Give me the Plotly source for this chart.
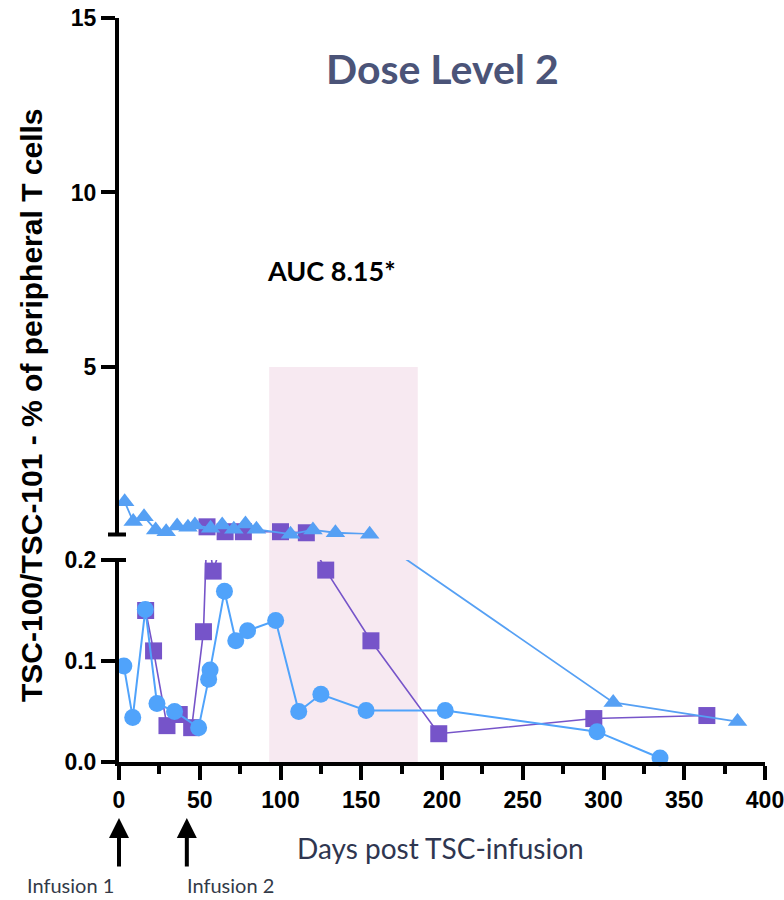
import plotly.graph_objects as go

# ---------------- data ----------------
circle_days = [3, 8.5, 16.3, 23.5, 34.4, 49.3, 55.5, 56.4, 65.3, 72.3, 79.6, 97, 111.3, 125, 153, 202, 296, 335]
circle_pct = [0.095, 0.044, 0.151, 0.058, 0.050, 0.034, 0.082, 0.091, 0.169, 0.120, 0.130, 0.140, 0.050, 0.067,
              0.051, 0.051, 0.030, 0.004]

square_days = [16.5, 21.4, 29.7, 37.3, 45, 52.3, 54.5, 58.3, 65.7, 77, 100, 116, 128, 156, 198, 294, 364]
square_pct = [0.150, 0.110, 0.036, 0.047, 0.034, 0.129, 0.42, 0.189, 0.28, 0.28, 0.28, 0.25, 0.190, 0.120,
              0.028, 0.043, 0.046]

triangle_days = [3.5, 8.8, 15.5, 22.7, 29.2, 36, 42.7, 47, 56.7, 63.9, 71.1, 78.3, 85.1, 106.2, 120.1, 134,
                 155.2, 306, 383]
triangle_pct = [1.14, 0.57, 0.71, 0.33, 0.28, 0.44, 0.41, 0.47, 0.38, 0.47, 0.35, 0.50, 0.35, 0.21, 0.33, 0.25,
                0.21, 0.059, 0.040]

x_ticks = [0, 50, 100, 150, 200, 250, 300, 350, 400]
lower_ticks = [0.0, 0.1, 0.2]
lower_labels = ["0.0", "0.1", "0.2"]
upper_ticks = [5, 10, 15]
upper_labels = ["5", "10", "15"]

auc_window = [93, 185]     # shaded days
auc_top = 5
infusion_days = [0, 42]
infusion_labels = ["Infusion 1", "Infusion 2"]

# ---------------- broken-axis geometry ----------------
LOW_TOP = 0.2
UP_BOT, UP_TOP = 0.2, 15
H_LOW, H_GAP, H_UP = 202, 25.5, 516.5
H_ALL = H_LOW + H_GAP + H_UP
W_PLOT = 646
ML, MT = 119, 18
MB = 900 - MT - H_ALL
MR = 784 - ML - W_PLOT


def seg_px(v):
    if v <= LOW_TOP:
        return v / LOW_TOP * H_LOW
    return H_LOW + H_GAP + (v - UP_BOT) / (UP_TOP - UP_BOT) * H_UP


def in_lower(v):
    return seg_px(v) / H_LOW * LOW_TOP


def in_upper(v):
    return UP_BOT + (seg_px(v) - H_LOW - H_GAP) / H_UP * (UP_TOP - UP_BOT)


def px_x(px):
    return (px - ML) / W_PLOT


def px_y(py):
    return (MT + H_ALL - py) / H_ALL


fig = go.Figure()

series = [
    (square_days, square_pct, "#7654c9", "square", 17, 1.6),
    (circle_days, circle_pct, "#50a3fb", "circle", 17, 2),
    (triangle_days, triangle_pct, "#56a0f4", "triangle-up", 17, 1.8),
]

for days, pct, color, sym, size, lw in series:
    fig.add_trace(go.Scatter(x=days, y=[in_lower(v) for v in pct], mode="lines",
                             line=dict(color=color, width=lw), yaxis="y", hoverinfo="skip"))
    fig.add_trace(go.Scatter(x=days, y=[in_upper(v) for v in pct], mode="lines",
                             line=dict(color=color, width=lw), yaxis="y2", hoverinfo="skip"))
    lo = [(d, v) for d, v in zip(days, pct) if v <= LOW_TOP]
    up = [(d, v) for d, v in zip(days, pct) if v > LOW_TOP]
    if lo:
        fig.add_trace(go.Scatter(x=[d for d, _ in lo], y=[v for _, v in lo], mode="markers",
                                 marker=dict(symbol=sym, size=size, color=color, line=dict(width=0)),
                                 yaxis="y", cliponaxis=False))
    if up:
        fig.add_trace(go.Scatter(x=[d for d, _ in up], y=[v for _, v in up], mode="markers",
                                 marker=dict(symbol=sym, size=size, color=color, line=dict(width=0)),
                                 yaxis="y2", cliponaxis=False))

tickfont = dict(family="Liberation Sans, Arial", size=23, color="black", weight="bold")
axis_common = dict(ticks="outside", ticklen=14, tickwidth=4, showline=True, linewidth=4, linecolor="black",
                   tickcolor="black", showgrid=False, zeroline=False, tickfont=tickfont,
                   ticklabeloverflow="allow", automargin=False)

fig.update_layout(
    width=784, height=900,
    margin=dict(l=ML, r=MR, t=MT, b=MB, autoexpand=False),
    paper_bgcolor="white", plot_bgcolor="rgba(0,0,0,0)",
    showlegend=False,
    xaxis=dict(range=[0, 400], tickvals=x_ticks, anchor="y",
               minor=dict(ticks="outside", ticklen=8, tickwidth=4, tickcolor="black", dtick=25, tick0=0,
                          showgrid=False), **axis_common),
    yaxis=dict(domain=[0, H_LOW / H_ALL], range=[0, LOW_TOP], tickvals=lower_ticks, ticktext=lower_labels,
               anchor="x", **axis_common),
    yaxis2=dict(domain=[(H_LOW + H_GAP) / H_ALL, 1], range=[UP_BOT, UP_TOP], tickvals=upper_ticks,
                ticktext=upper_labels, anchor="x", **axis_common),
)

# shaded AUC window (spans the axis break)
fig.add_shape(type="rect", xref="paper", yref="paper",
              x0=auc_window[0] / 400, x1=auc_window[1] / 400,
              y0=0, y1=seg_px(auc_top) / H_ALL,
              fillcolor="#f7e9f1", line=dict(width=0), layer="below")

# break caps
for yp in [H_LOW / H_ALL, (H_LOW + H_GAP) / H_ALL]:
    fig.add_shape(type="line", xref="paper", yref="paper", x0=-11 / W_PLOT, x1=7 / W_PLOT,
                  y0=yp, y1=yp, line=dict(color="black", width=4))

ann_font = "Lato, Open Sans, sans-serif"
common = dict(xref="paper", yref="paper", showarrow=False, xanchor="center", yanchor="middle")
fig.add_annotation(text="Dose Level 2", x=px_x(442), y=px_y(68),
                   font=dict(family=ann_font, size=41, color="#4b5478", weight="bold"), **common)
fig.add_annotation(text="AUC 8.15*", x=px_x(331), y=px_y(270),
                   font=dict(family=ann_font, size=27, color="black", weight="bold"), **common)
fig.add_annotation(text="TSC-100/TSC-101 - % of peripheral T cells", x=px_x(31), y=px_y(405), textangle=-90,
                   font=dict(family="Liberation Sans, Arial", size=30, color="black", weight="bold"), **common)
fig.add_annotation(text="Days post TSC-infusion", x=px_x(440), y=px_y(848),
                   font=dict(family=ann_font, size=28, color="#2f3650"), **common)

for d in infusion_days:
    fig.add_annotation(text="", x=d, xref="x", y=px_y(818), yref="paper", showarrow=True,
                       ax=0, ay=50, arrowhead=2, arrowsize=1, arrowwidth=4, arrowcolor="black")
for lab, px in zip(infusion_labels, [70, 230]):
    fig.add_annotation(text=lab, x=px_x(px), y=px_y(885), borderpad=0,
                       font=dict(family=ann_font, size=20, color="#333a48"), **common)

fig.write_html("out.html")
